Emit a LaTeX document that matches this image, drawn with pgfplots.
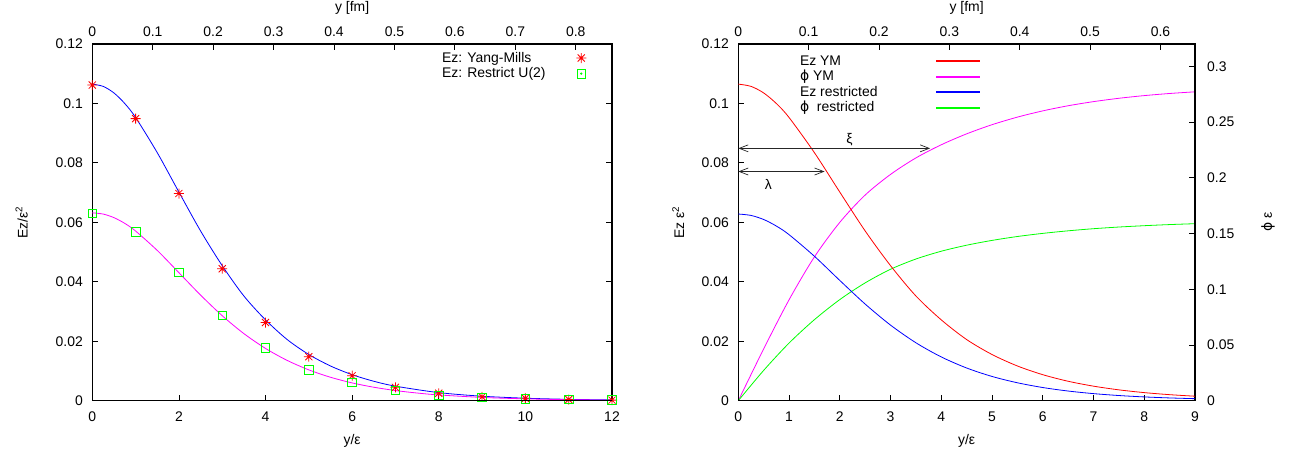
\documentclass[border=0pt]{standalone}
\usepackage{pgfplots}
\pgfplotsset{compat=1.18}
\usepackage{fontspec}
\setmainfont{Liberation Sans}
\newfontfamily\dejavu{DejaVu Sans}
\usetikzlibrary{arrows.meta}
\newcommand{\phisym}{{\dejavu ϕ}}
\definecolor{gpred}{RGB}{255,0,0}
\definecolor{gpgreen}{RGB}{0,255,0}
\definecolor{gpblue}{RGB}{0,0,255}
\definecolor{gpmag}{RGB}{255,0,255}

\pgfdeclareplotmark{gpstar}{%
  \pgfpathmoveto{\pgfqpoint{-\pgfplotmarksize}{0pt}}\pgfpathlineto{\pgfqpoint{\pgfplotmarksize}{0pt}}%
  \pgfpathmoveto{\pgfqpoint{0pt}{-\pgfplotmarksize}}\pgfpathlineto{\pgfqpoint{0pt}{\pgfplotmarksize}}%
  \pgfpathmoveto{\pgfqpoint{-.7071\pgfplotmarksize}{-.7071\pgfplotmarksize}}\pgfpathlineto{\pgfqpoint{.7071\pgfplotmarksize}{.7071\pgfplotmarksize}}%
  \pgfpathmoveto{\pgfqpoint{-.7071\pgfplotmarksize}{.7071\pgfplotmarksize}}\pgfpathlineto{\pgfqpoint{.7071\pgfplotmarksize}{-.7071\pgfplotmarksize}}%
  \pgfusepathqstroke}

\pgfplotsset{
  base/.style={scale only axis, anchor=south west, height=356.7bp,
    tick align=inside, major tick length=6bp,
    axis line style={line width=1.1bp},
    every tick/.append style={line width=0.8bp, black}},
  bottomx/.style={xtick pos=left, xticklabel style={yshift=-7.5bp},
    xlabel style={at={(axis description cs:0.5,-0.113)}, anchor=center}},
  lefty/.style={yticklabel style={xshift=-6bp},
    ylabel style={at={(axis description cs:#1,0.5)}, anchor=center}},
  topx/.style={hide y axis, xtick pos=right, xticklabel pos=right,
    xticklabel style={yshift=4.3bp},
    xlabel style={at={(axis description cs:0.5,1.101)}, anchor=center}},
  starleg/.style={legend image code/.code={%
    \node[draw=none, fill=none, inner sep=0pt, minimum width=32bp, minimum height=2bp, anchor=west] at (0bp,0bp) {};
    \draw[draw=gpred, line width=0.8bp, mark=gpstar, mark size=5bp, only marks] plot coordinates {(26bp,0bp)};}},
  boxleg/.style={legend image code/.code={%
    \node[draw=none, fill=none, inner sep=0pt, minimum width=32bp, minimum height=2bp, anchor=west] at (0bp,0bp) {};
    \draw[draw=gpgreen, line width=0.8bp, mark=square, mark size=4.3bp, only marks] plot coordinates {(26bp,0bp)};
    \fill[gpgreen] (26bp,0bp) circle (0.7bp);}},
  legred/.style={legend image code/.code={\fill[gpred] (0bp,-0.45bp) rectangle (42.7bp,0.45bp);}},
  legmag/.style={legend image code/.code={\fill[gpmag] (0bp,-0.45bp) rectangle (42.7bp,0.45bp);}},
  legblue/.style={legend image code/.code={\fill[gpblue] (0bp,-0.6bp) rectangle (42.7bp,0.6bp);}},
  leggreen/.style={legend image code/.code={\fill[gpgreen] (0bp,-0.45bp) rectangle (42.7bp,0.45bp);}},
  legnodes/.style={draw=none, fill=none, inner sep=0pt, outer sep=0pt, row sep=0pt, column sep=0pt,
    nodes={inner sep=1.3bp, text height=10.5bp, text depth=2.5bp}},
}

\begin{document}
\begin{tikzpicture}[font=\fontsize{14}{16.8}\selectfont]
\path[use as bounding box] (0,0) rectangle (1300bp,459bp);

% ---------------- LEFT PLOT ----------------
\begin{axis}[base, bottomx, lefty=-0.1358,
  at={(92.3bp,58.3bp)}, width=519.7bp,
  xmin=0, xmax=12, ymin=0, ymax=0.12,
  xtick={0,2,4,6,8,10,12}, xticklabels={0,2,4,6,8,10,12},
  ytick={0,0.02,0.04,0.06,0.08,0.1,0.12},
  yticklabels={0,0.02,0.04,0.06,0.08,0.1,0.12},
  xlabel={y/ε}, ylabel={Ez/ε\textsuperscript{2}},
  legend style={legnodes, at={(axis description cs:0.6704,0.9826)}, anchor=north west},
  legend cell align=left, legend plot pos=right]
\addplot[gpblue, line width=0.8bp, smooth, forget plot] coordinates {
(0,0.1065)(0.25,0.10575)(0.5,0.10353)(0.75,0.09997)(1,0.09527)(1.5,0.08344)(2,0.07018)
(2.5,0.05711)(3,0.04543)(3.5,0.03523)(4,0.02719)(4.5,0.02057)(5,0.01554)(5.5,0.01168)
(6,0.00875)(6.5,0.00654)(7,0.00489)(8,0.00272)(9,0.00151)(10,0.00084)(11,0.00046)(12,0.00026)};
\addplot[gpmag, line width=0.8bp, smooth, forget plot] coordinates {
(0,0.0632)(0.25,0.06279)(0.5,0.06159)(0.75,0.05965)(1,0.05707)(1.5,0.05055)(2,0.04306)
(2.5,0.03553)(3,0.02859)(3.5,0.02257)(4,0.01758)(4.5,0.01355)(5,0.01037)(5.5,0.00789)
(6,0.00598)(6.5,0.00453)(7,0.00342)(7.5,0.00258)(8,0.00194)(9,0.00110)(10,0.00062)(11,0.00035)(12,0.00020)};
\addplot[gpred, only marks, mark=gpstar, mark size=5bp, line width=0.8bp, starleg] coordinates {
(0,0.1062)(1,0.0949)(2,0.0697)(3,0.0444)(4,0.0263)(5,0.0148)(6,0.0084)(7,0.0045)
(8,0.0025)(9,0.0013)(10,0.0008)(11,0.0004)(12,0.0002)};
\addlegendentry{\makebox[112bp][l]{Ez: Yang-Mills}}
\addplot[gpgreen, only marks, mark=square, mark size=4.3bp, line width=0.8bp, boxleg] coordinates {
(0,0.0630)(1,0.0568)(2,0.0431)(3,0.0287)(4,0.0177)(5,0.0104)(6,0.0062)(7,0.0034)
(8,0.0018)(9,0.0011)(10,0.0007)(11,0.0004)(12,0.0003)};
\addlegendentry{\makebox[112bp][l]{Ez: Restrict U(2)}}
\end{axis}
\begin{axis}[base, topx, at={(92.3bp,58.3bp)}, width=519.7bp,
  xmin=0, xmax=0.860, ymin=0, ymax=1,
  xtick={0,0.1,0.2,0.3,0.4,0.5,0.6,0.7,0.8},
  xticklabels={0,0.1,0.2,0.3,0.4,0.5,0.6,0.7,0.8},
  xlabel={y [fm]}]
\end{axis}

% ---------------- RIGHT PLOT ----------------
\begin{axis}[base, hide x axis, at={(738.3bp,58.3bp)}, width=456.7bp,
  xmin=0, xmax=9, ymin=0, ymax=0.32,
  ytick pos=right, yticklabel pos=right, yticklabel style={xshift=8.6bp},
  ytick={0,0.05,0.1,0.15,0.2,0.25,0.3},
  yticklabels={0,0.05,0.1,0.15,0.2,0.25,0.3},
  ylabel={\phisym{} ε},
  ylabel style={at={(axis description cs:1.16,0.5)}, anchor=center}]
\addplot[gpmag, line width=0.8bp, smooth] coordinates {
(0,0)(0.5,0.0465)(1,0.0905)(1.5,0.1290)(2,0.1600)(2.5,0.1845)(3,0.2030)(3.5,0.2178)
(4,0.2296)(4.5,0.2394)(5,0.2476)(5.5,0.2544)(6,0.2600)(6.5,0.2646)(7,0.2683)(7.5,0.2713)
(8,0.2737)(8.5,0.2756)(9,0.2771)};
\addplot[gpgreen, line width=0.8bp, smooth] coordinates {
(0,0)(0.5,0.0272)(1,0.0517)(1.5,0.0727)(2,0.0907)(2.5,0.1057)(3,0.1179)(3.5,0.1271)
(4,0.1341)(4.5,0.1395)(5,0.1438)(5.5,0.1473)(6,0.1501)(6.5,0.1524)(7,0.1543)(7.5,0.1558)
(8,0.1570)(8.5,0.1580)(9,0.1588)};
\end{axis}
\begin{axis}[base, bottomx, lefty=-0.1314,
  at={(738.3bp,58.3bp)}, width=456.7bp,
  xmin=0, xmax=9, ymin=0, ymax=0.12, ytick pos=left,
  xtick={0,1,2,3,4,5,6,7,8,9}, xticklabels={0,1,2,3,4,5,6,7,8,9},
  ytick={0,0.02,0.04,0.06,0.08,0.1,0.12},
  yticklabels={0,0.02,0.04,0.06,0.08,0.1,0.12},
  xlabel={y/ε}, ylabel={Ez ε\textsuperscript{2}},
  legend style={legnodes, at={(axis description cs:0.1323,0.9742)}, anchor=north west},
  legend cell align=left, legend plot pos=right]
\addplot[gpred, line width=0.8bp, smooth, legred] coordinates {
(0,0.1065)(0.25,0.10575)(0.5,0.10353)(0.75,0.09997)(1,0.09527)(1.5,0.08344)(2,0.07018)
(2.5,0.05711)(3,0.04543)(3.5,0.03523)(4,0.02719)(4.5,0.02057)(5,0.01554)(5.5,0.01168)
(6,0.00875)(6.5,0.00654)(7,0.00489)(7.5,0.00365)(8,0.00272)(8.5,0.00203)(9,0.00151)};
\addlegendentry{\makebox[134.7bp][l]{Ez YM}}
\addlegendimage{legmag}
\addlegendentry{\makebox[134.7bp][l]{\phisym{} YM}}
\addplot[gpblue, line width=0.8bp, smooth, legblue] coordinates {
(0,0.0628)(0.25,0.06233)(0.5,0.06096)(0.75,0.05875)(1,0.05586)(1.5,0.04859)(2,0.04046)
(2.5,0.03251)(3,0.02543)(3.5,0.01949)(4,0.01472)(4.5,0.01100)(5,0.00816)(5.5,0.00603)
(6,0.00443)(6.5,0.00325)(7,0.00238)(7.5,0.00174)(8,0.00127)(8.5,0.00093)(9,0.00068)};
\addlegendentry{\makebox[134.7bp][l]{Ez restricted}}
\addlegendimage{leggreen}
\addlegendentry{\makebox[134.7bp][l]{\phisym{} \ restricted}}
\draw[black!85, line width=0.7bp, {Straight Barb[length=9bp,width=7bp]}-{Straight Barb[length=9bp,width=7bp]}]
  (axis cs:0,0.0849) -- (axis cs:3.78,0.0849);
\node at (axis cs:2.19,0.0877) {ξ};
\draw[black!85, line width=0.7bp, {Straight Barb[length=9bp,width=7bp]}-{Straight Barb[length=9bp,width=7bp]}]
  (axis cs:0,0.0771) -- (axis cs:1.70,0.0771);
\node at (axis cs:0.59,0.0726) {λ};
\end{axis}
\begin{axis}[base, topx, at={(738.3bp,58.3bp)}, width=456.7bp,
  xmin=0, xmax=0.649, ymin=0, ymax=1,
  xtick={0,0.1,0.2,0.3,0.4,0.5,0.6},
  xticklabels={0,0.1,0.2,0.3,0.4,0.5,0.6},
  xlabel={y [fm]}]
\end{axis}
\end{tikzpicture}
\end{document}
